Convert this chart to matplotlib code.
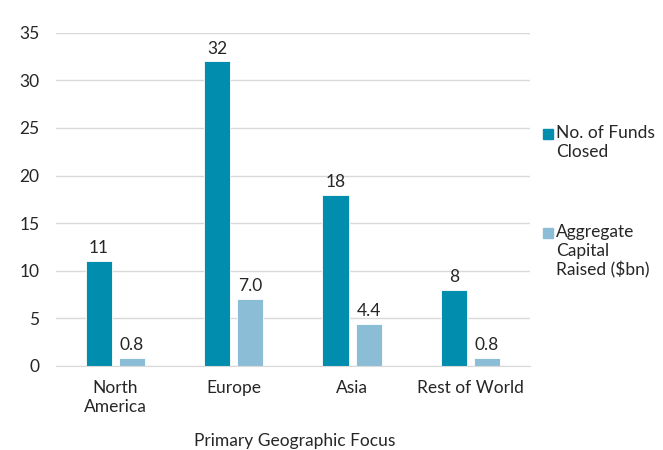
import matplotlib.pyplot as plt
import matplotlib.patches as mpatches
import numpy as np

plt.rcParams['font.family'] = ['Lato', 'DejaVu Sans']

regions = ["North\nAmerica", "Europe", "Asia", "Rest of World"]
funds_closed = [11, 32, 18, 8]
capital_raised = [0.8, 7.0, 4.4, 0.8]
series_names = ["No. of Funds\nClosed", "Aggregate\nCapital\nRaised ($bn)"]

dark = "#008DAE"
light = "#8BBDD6"
text_col = "#262626"
fs = 12.5

fig = plt.figure(figsize=(6.63, 4.5), dpi=100)
ax = fig.add_axes([0.0845, 0.187, 0.7145, 0.74])

x = np.arange(len(regions))
w = 0.22
gap = 0.06
b1 = ax.bar(x - (w + gap) / 2, funds_closed, w, color=dark, edgecolor="white", linewidth=0.6)
b2 = ax.bar(x + (w + gap) / 2, capital_raised, w, color=light, edgecolor="white", linewidth=0.6)

for rect, v in zip(b1, funds_closed):
    ax.text(rect.get_x() + rect.get_width() / 2, v + 0.5, f"{v}", ha="center", va="bottom",
            fontsize=fs, color=text_col)
for rect, v in zip(b2, capital_raised):
    ax.text(rect.get_x() + rect.get_width() / 2, v + 0.5, f"{v:.1f}", ha="center", va="bottom",
            fontsize=fs, color=text_col)

ax.set_ylim(0, 35)
ax.set_yticks(range(0, 36, 5))
ax.set_xlim(-0.5, len(regions) - 0.5)
ax.set_xticks(x)
ax.set_xticklabels(regions, fontsize=fs, color=text_col, linespacing=1.25)
ax.tick_params(axis="y", labelsize=fs, labelcolor=text_col, length=0, pad=12)
ax.tick_params(axis="x", length=0, pad=10)
ax.yaxis.grid(True, color="#D9D9D9", linewidth=1)
ax.set_axisbelow(True)
for s in ["top", "right", "left"]:
    ax.spines[s].set_visible(False)
ax.spines["bottom"].set_color("#D9D9D9")

W, H = 663, 450
# axis title sits near the bottom edge, as in the reference
fig.text(295 / W, 1 - 446 / H, "Primary Geographic Focus", fontsize=fs, color=text_col,
         ha="center", va="baseline")

# legend drawn by hand so the square sits on the first line of each label
for (ytop, name, col) in [(127, series_names[0], dark), (226, series_names[1], light)]:
    fig.add_artist(mpatches.Rectangle((543 / W, 1 - (ytop + 12) / H), 10 / W, 10 / H,
                                      color=col, transform=fig.transFigure))
    fig.text(556 / W, 1 - (ytop - 2) / H, name, fontsize=fs, color=text_col,
             va="top", ha="left", linespacing=1.2)

fig.savefig("out.png", dpi=100)
